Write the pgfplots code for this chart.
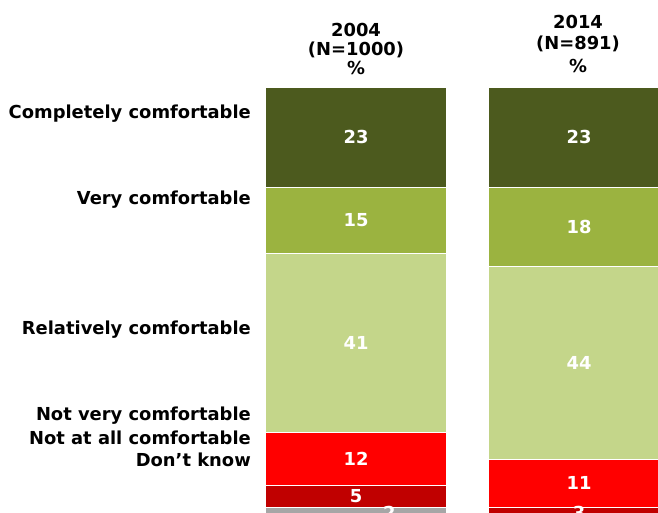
\documentclass[border=0pt]{standalone}
\usepackage{pgfplots}
\pgfplotsset{compat=1.18}
\usepackage{fontspec}
\setmainfont{DejaVu Sans}
\definecolor{c1}{HTML}{4C5A1E}
\definecolor{c2}{HTML}{9BB340}
\definecolor{c3}{HTML}{C4D68A}
\definecolor{c4}{HTML}{FF0000}
\definecolor{c5}{HTML}{C00000}
\definecolor{c6}{HTML}{A6A6A6}
\begin{document}
\begin{tikzpicture}[x=1pt,y=1pt,font=\fontsize{17.9pt}{21pt}\selectfont\bfseries]
\pgfplotsset{myax/.style={at={(265pt,0pt)}, anchor=south west, scale only axis,
  width=393pt, height=426pt, xmin=-0.408, xmax=1.354, ymin=0, ymax=97.3,
  y dir=reverse, axis lines=none, ticks=none, clip=true}}
\begin{axis}[myax, ybar stacked, bar width=182pt]
\addplot[fill=c1, draw=white, line width=1.2pt] coordinates {(0,23) (1,23)};
\addplot[fill=c2, draw=white, line width=1.2pt] coordinates {(0,15) (1,18)};
\addplot[fill=c3, draw=white, line width=1.2pt] coordinates {(0,41) (1,44)};
\addplot[fill=c4, draw=white, line width=1.2pt] coordinates {(0,12) (1,11)};
\addplot[fill=c5, draw=white, line width=1.2pt] coordinates {(0,5) (1,3)};
\addplot[fill=c6, draw=white, line width=1.2pt] coordinates {(0,2) (1,1)};
\end{axis}
\begin{axis}[myax]
\addplot[only marks, mark=none, nodes near coords, point meta=explicit symbolic,
  every node near coord/.append style={anchor=center, text=white, font=\fontsize{17.9pt}{21pt}\selectfont\bfseries}]
  coordinates {(0,11.5) [23] (0,30.5) [15] (0,58.5) [41] (0,85) [12] (0,93.5) [5] (0.15,97.2) [2]
               (1,11.5) [23] (1,32) [18] (1,63) [44] (1,90.5) [11] (1,97.3) [3]};
\end{axis}
\begin{scope}[every node/.style={inner sep=0pt}]
\node[anchor=east] at (251,399) {Completely comfortable};
\node[anchor=east] at (251,313) {Very comfortable};
\node[anchor=east] at (251,183) {Relatively comfortable};
\node[anchor=east] at (251,97) {Not very comfortable};
\node[anchor=east] at (251,75) {Not at all comfortable};
\node[anchor=east] at (251,53) {Don’t know};
\node at (356,483) {2004};
\node at (356,463) {(N=1000)};
\node at (356,445) {\%};
\node at (578,491) {2014};
\node at (578,469) {(N=891)};
\node at (578,447) {\%};
\end{scope}
\pgfresetboundingbox
\path[use as bounding box] (0,0) rectangle (658,513);
\end{tikzpicture}
\end{document}
